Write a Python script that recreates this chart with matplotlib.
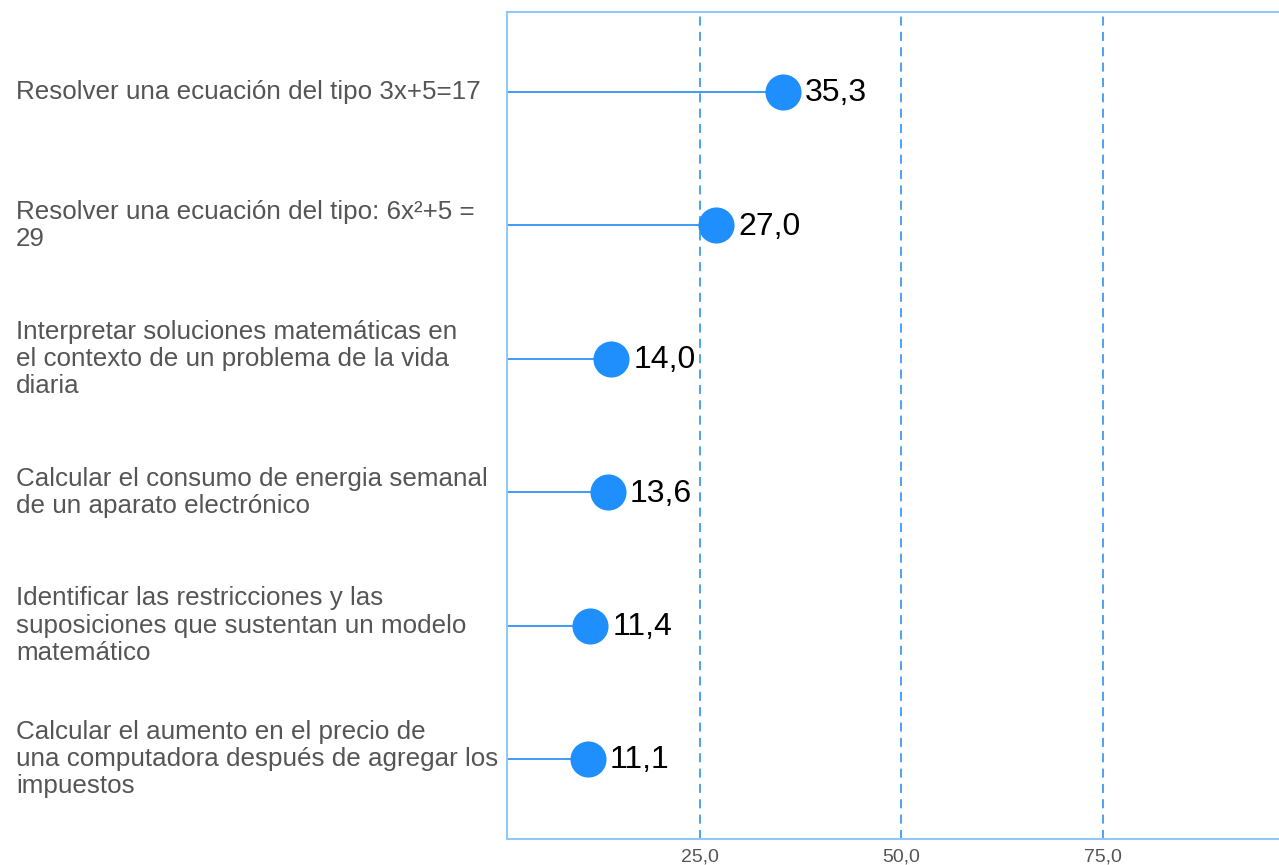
import matplotlib
matplotlib.use("Agg")
import matplotlib.pyplot as plt
import matplotlib.transforms as mtransforms

categories = [
    "Resolver una ecuación del tipo 3x+5=17",
    "Resolver una ecuación del tipo: 6x²+5 =\n29",
    "Interpretar soluciones matemáticas en\nel contexto de un problema de la vida\ndiaria",
    "Calcular el consumo de energia semanal\nde un aparato electrónico",
    "Identificar las restricciones y las\nsuposiciones que sustentan un modelo\nmatemático",
    "Calcular el aumento en el precio de\nuna computadora después de agregar los\nimpuestos",
]
values = [35.3, 27.0, 14.0, 13.6, 11.4, 11.1]
value_labels = ["35,3", "27,0", "14,0", "13,6", "11,4", "11,1"]
tick_values = [25, 50, 75]
tick_labels = ["25,0", "50,0", "75,0"]

plt.rcParams['font.family'] = ['Liberation Sans', 'DejaVu Sans']

W, H = 1279, 865
fig = plt.figure(figsize=(W / 100, H / 100), dpi=100)
ax = fig.add_axes([507 / W, 1 - 839 / H, (1280 - 507) / W, (839 - 12) / H])

xmin, xmax = 1.1, 97.0
ax.set_xlim(xmin, xmax)
ax.set_ylim(len(categories) - 0.4, -0.6)

spine_col = "#90c8f8"
for s in ["left", "top", "bottom"]:
    ax.spines[s].set_color(spine_col)
    ax.spines[s].set_linewidth(1.5)
ax.spines["right"].set_visible(False)

for t in tick_values:
    ax.axvline(t, color="#3d9bf5", linestyle=(0, (5, 3.5)), linewidth=1.3, zorder=1)

ys = list(range(len(categories)))
for y, v, lab in zip(ys, values, value_labels):
    ax.plot([xmin, v], [y, y], color="#3d9bf5", linewidth=1.4, zorder=2)
    ax.plot([v], [y], "o", color="#1e8ffc", markersize=26, zorder=3, markeredgewidth=0)
    ax.annotate(lab, (v, y), xytext=(16, -1), textcoords="offset points",
                ha="left", va="center", fontsize=23, color="black", zorder=4)

ax.set_yticks([])
ax.set_xticks(tick_values)
ax.set_xticklabels(tick_labels, fontsize=14, color="#555555")
ax.tick_params(axis="x", length=0, pad=7)

trans = mtransforms.blended_transform_factory(fig.transFigure, ax.transData)
for y, c in zip(ys, categories):
    ax.text(16 / W, y, c, transform=trans, ha="left", va="center",
            fontsize=18.7, color="#555555", linespacing=1.17, clip_on=False)

fig.savefig("out.png", dpi=100)
